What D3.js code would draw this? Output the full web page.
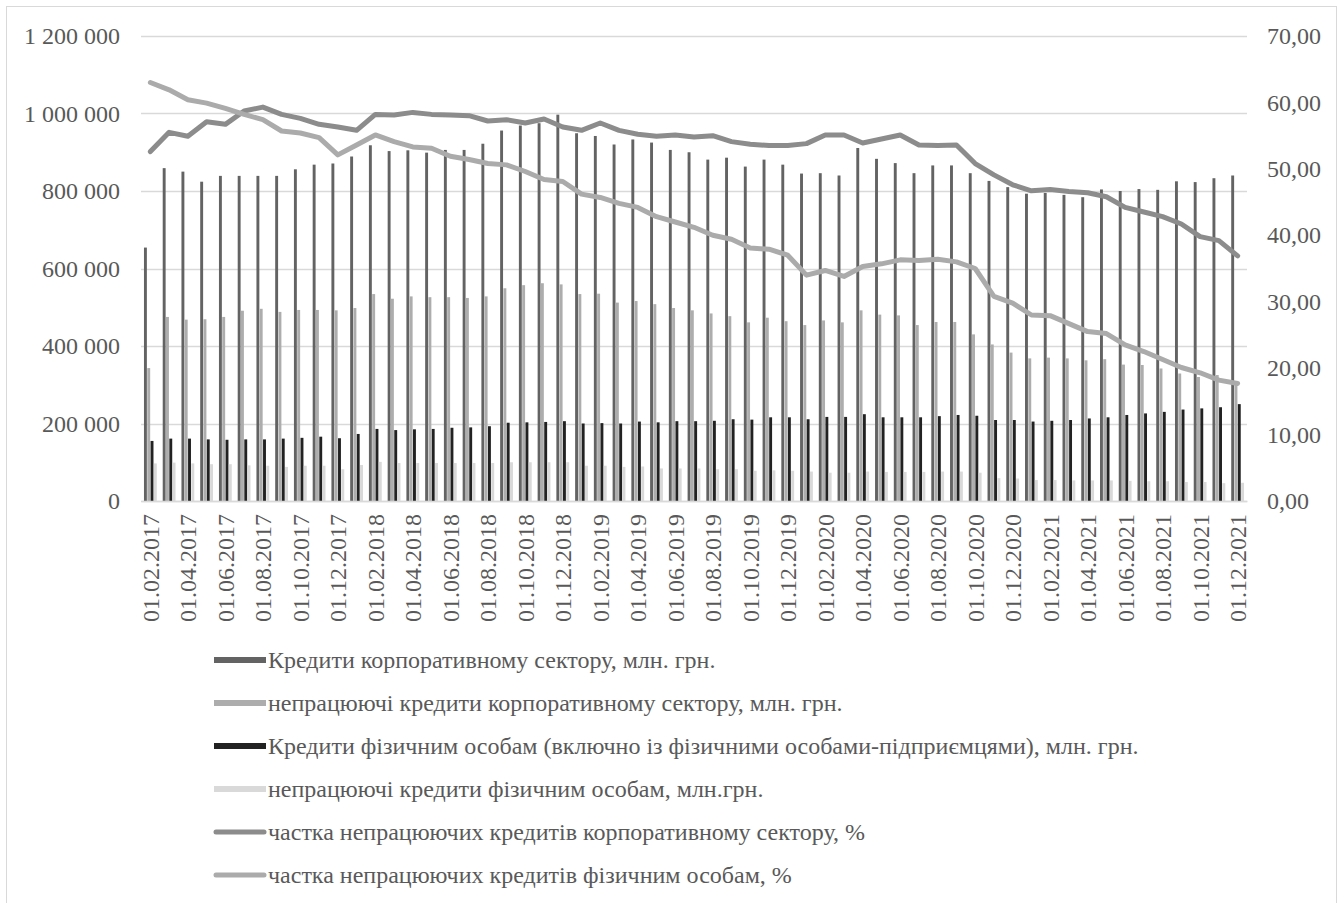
<!DOCTYPE html>
<html>
<head>
<meta charset="utf-8">
<script src="https://d3js.org/d3.v7.min.js"></script>
<style>
  body { margin: 0; background: #fff; }
  text { font-family: "Liberation Serif", "Times New Roman", serif; }
</style>
</head>
<body>
<div id="vis"></div>
<script>

// months (first day of month)
var dates = [
  "01.02.2017","01.03.2017","01.04.2017","01.05.2017","01.06.2017","01.07.2017","01.08.2017","01.09.2017","01.10.2017","01.11.2017","01.12.2017",
  "01.01.2018","01.02.2018","01.03.2018","01.04.2018","01.05.2018","01.06.2018","01.07.2018","01.08.2018","01.09.2018","01.10.2018","01.11.2018","01.12.2018",
  "01.01.2019","01.02.2019","01.03.2019","01.04.2019","01.05.2019","01.06.2019","01.07.2019","01.08.2019","01.09.2019","01.10.2019","01.11.2019","01.12.2019",
  "01.01.2020","01.02.2020","01.03.2020","01.04.2020","01.05.2020","01.06.2020","01.07.2020","01.08.2020","01.09.2020","01.10.2020","01.11.2020","01.12.2020",
  "01.01.2021","01.02.2021","01.03.2021","01.04.2021","01.05.2021","01.06.2021","01.07.2021","01.08.2021","01.09.2021","01.10.2021","01.11.2021","01.12.2021"
];

// Кредити корпоративному сектору, млн. грн.
var corpLoans = [
  654000,859000,850000,824000,839000,839000,839000,839000,856000,868000,
  871000,889000,918000,903000,905000,899000,906000,906000,922000,956000,
  969000,975000,997000,949000,942000,920000,933000,925000,906000,900000,
  881000,886000,863000,881000,868000,845000,846000,840000,911000,883000,
  872000,846000,866000,866000,846000,826000,810000,793000,795000,790000,
  784000,804000,800000,805000,803000,825000,823000,833000,840000
];

// непрацюючі кредити корпоративному сектору, млн. грн.
var corpNpl = [
  343000,475000,468000,469000,475000,491000,496000,488000,493000,493000,
  492000,498000,534000,522000,528000,526000,526000,524000,528000,549000,
  557000,562000,559000,534000,535000,512000,516000,508000,498000,492000,
  484000,477000,461000,473000,464000,454000,466000,461000,492000,481000,
  479000,454000,462000,462000,430000,404000,383000,368000,370000,368000,
  363000,366000,352000,351000,342000,329000,320000,325000,303000
];

// Кредити фізичним особам, млн. грн.
var retailLoans = [
  155000,161000,161000,159000,158000,159000,159000,161000,163000,166000,
  162000,173000,186000,183000,185000,186000,189000,190000,193000,202000,
  203000,204000,206000,200000,201000,200000,205000,203000,206000,206000,
  207000,211000,210000,216000,216000,211000,217000,217000,224000,216000,
  216000,216000,219000,222000,220000,209000,209000,205000,207000,209000,
  213000,216000,222000,226000,230000,236000,239000,242000,250000
];

// непрацюючі кредити фізичним особам, млн.грн.
var retailNpl = [
  97000,99000,97000,95000,95000,92000,91000,88000,91000,91000,
  82000,93000,101000,98000,98000,98000,98000,98000,98000,100000,
  100000,100000,100000,91000,91000,88000,89000,84000,84000,84000,
  82000,82000,78000,79000,78000,76000,73000,73000,76000,75000,
  75000,75000,76000,76000,73000,59000,58000,54000,54000,53000,
  53000,53000,52000,51000,51000,49000,49000,46000,47000
];

// частка непрацюючих кредитів корпоративному сектору, %
var corpShare = [
  52.6,55.5,54.9,57.1,56.7,58.7,59.3,58.2,57.6,56.7,
  56.3,55.8,58.2,58.1,58.5,58.2,58.1,58.0,57.2,57.4,
  56.9,57.5,56.3,55.8,56.9,55.8,55.2,54.9,55.1,54.8,
  55.0,54.1,53.7,53.5,53.5,53.8,55.1,55.1,53.9,54.5,
  55.1,53.6,53.5,53.6,50.8,49.1,47.6,46.7,46.9,46.6,
  46.4,45.8,44.2,43.5,42.8,41.7,39.8,39.2,36.9
];

// частка непрацюючих кредитів фізичним особам, %
var retailShare = [
  63.0,61.9,60.4,59.9,59.1,58.2,57.4,55.7,55.4,54.7,
  52.1,53.6,55.1,54.1,53.3,53.1,51.9,51.4,50.8,50.6,
  49.6,48.4,48.1,46.2,45.7,44.8,44.2,42.8,42.0,41.2,
  40.0,39.4,38.1,37.9,37.0,34.0,34.7,33.8,35.3,35.7,
  36.3,36.2,36.4,36.0,35.0,30.8,29.8,28.0,27.9,26.7,
  25.5,25.2,23.5,22.5,21.3,20.1,19.3,18.2,17.7
];

var leftTicks = [0, 200000, 400000, 600000, 800000, 1000000, 1200000];
var rightTicks = [0, 10, 20, 30, 40, 50, 60, 70];

var barSeries = [
  {name: "Кредити корпоративному сектору, млн. грн.", values: corpLoans, color: "#636363"},
  {name: "непрацюючі кредити корпоративному сектору, млн. грн.", values: corpNpl, color: "#adadad"},
  {name: "Кредити фізичним особам (включно із фізичними особами-підприємцями), млн. грн.", values: retailLoans, color: "#222222"},
  {name: "непрацюючі кредити фізичним особам, млн.грн.", values: retailNpl, color: "#d9d9d9"}
];
var lineSeries = [
  {name: "частка непрацюючих кредитів корпоративному сектору, %", values: corpShare, color: "#8c8c8c"},
  {name: "частка непрацюючих кредитів фізичним особам, %", values: retailShare, color: "#ababab"}
];

// set the dimensions and margins of the graph
var W = 1344, H = 903;
var margin = {top: 36, right: 97, bottom: 402, left: 141},
    width = W - margin.left - margin.right,
    height = H - margin.top - margin.bottom;
var fontSize = "24px";

var uaLocale = d3.formatLocale({decimal: ",", thousands: " ", grouping: [3], currency: ["", ""]});
var fmtLeft = uaLocale.format(",d");
var fmtRight = uaLocale.format(".2f");

// set the ranges
var x0 = d3.scaleBand().domain(dates).range([0, width]).padding(0);
var x1 = d3.scaleBand().domain(d3.range(barSeries.length))
    .range([0, x0.bandwidth()]).paddingInner(0.12).paddingOuter(0.9);
var y0 = d3.scaleLinear().domain([0, 1200000]).range([height, 0]);
var y1 = d3.scaleLinear().domain([0, 70]).range([height, 0]);

var svg = d3.select("#vis").append("svg")
    .attr("width", W)
    .attr("height", H);

// outer chart border
svg.append("rect")
    .attr("x", 6.5).attr("y", 6.5)
    .attr("width", 1330).attr("height", 910)
    .attr("fill", "none")
    .attr("stroke", "#d9d9d9");

var g = svg.append("g")
    .attr("transform", "translate(" + margin.left + "," + margin.top + ")");

// gridlines
g.append("g")
  .selectAll("line")
  .data(leftTicks)
  .enter().append("line")
    .attr("x1", 0).attr("x2", width)
    .attr("y1", function(d) { return Math.round(y0(d)) + 0.5; })
    .attr("y2", function(d) { return Math.round(y0(d)) + 0.5; })
    .attr("stroke", "#d9d9d9")
    .attr("stroke-width", 1.5);

// Add the bars
g.append("g")
  .selectAll("g")
  .data(barSeries)
  .enter().append("g")
    .attr("fill", function(d) { return d.color; })
  .each(function(s, si) {
    d3.select(this).selectAll("rect")
      .data(s.values)
      .enter().append("rect")
        .attr("x", function(d, i) { return x0(dates[i]) + x1(si); })
        .attr("width", x1.bandwidth())
        .attr("y", function(d) { return y0(d); })
        .attr("height", function(d) { return height - y0(d); });
  });

// Add the lines
var valueline = d3.line()
    .x(function(d, i) { return x0(dates[i]) + x0.bandwidth() / 2; })
    .y(function(d) { return y1(d); });

g.append("g")
  .selectAll("path")
  .data(lineSeries)
  .enter().append("path")
    .attr("fill", "none")
    .attr("stroke", function(d) { return d.color; })
    .attr("stroke-width", 5)
    .attr("stroke-linejoin", "round")
    .attr("stroke-linecap", "round")
    .attr("d", function(d) { return valueline(d.values); });

// Add the left axis
var axisL = g.append("g")
    .call(d3.axisLeft(y0).tickValues(leftTicks).tickFormat(fmtLeft).tickSize(0).tickPadding(21));
axisL.select(".domain").remove();
axisL.selectAll("text")
    .attr("fill", "#595959")
    .style("font-size", fontSize);

// Add the right axis
var axisR = g.append("g")
    .attr("transform", "translate(" + width + ",0)")
    .call(d3.axisRight(y1).tickValues(rightTicks).tickFormat(fmtRight).tickSize(0).tickPadding(20));
axisR.select(".domain").remove();
axisR.selectAll("text")
    .attr("fill", "#595959")
    .style("font-size", fontSize);

// Add the X axis (every second month labelled)
var axisX = g.append("g")
    .attr("transform", "translate(0," + height + ")")
    .call(d3.axisBottom(x0).tickValues(dates.filter(function(d, i) { return i % 2 === 0; })).tickSize(0));
axisX.select(".domain")
    .attr("stroke", "#d9d9d9")
    .attr("stroke-width", 1.5);
axisX.selectAll("text")
    .attr("fill", "#595959")
    .style("font-size", fontSize)
    .attr("transform", "rotate(-90)")
    .attr("text-anchor", "end")
    .attr("x", -13)
    .attr("y", 0)
    .attr("dy", "0.35em");

// Legend
var legendItems = barSeries.map(function(d) { return {name: d.name, color: d.color, type: "bar"}; })
    .concat(lineSeries.map(function(d) { return {name: d.name, color: d.color, type: "line"}; }));

var legend = svg.append("g")
  .selectAll("g")
  .data(legendItems)
  .enter().append("g")
    .attr("transform", function(d, i) { return "translate(214," + (660 + i * 43) + ")"; });

legend.filter(function(d) { return d.type === "bar"; })
  .append("rect")
    .attr("x", 0).attr("y", -3)
    .attr("width", 52).attr("height", 6)
    .attr("fill", function(d) { return d.color; });

legend.filter(function(d) { return d.type === "line"; })
  .append("line")
    .attr("x1", 2).attr("x2", 50)
    .attr("y1", 0).attr("y2", 0)
    .attr("stroke", function(d) { return d.color; })
    .attr("stroke-width", 5)
    .attr("stroke-linecap", "round");

legend.append("text")
    .attr("x", 54)
    .attr("y", 0)
    .attr("dy", "0.35em")
    .attr("fill", "#595959")
    .style("font-size", fontSize)
    .text(function(d) { return d.name; });

</script>
</body>
</html>
